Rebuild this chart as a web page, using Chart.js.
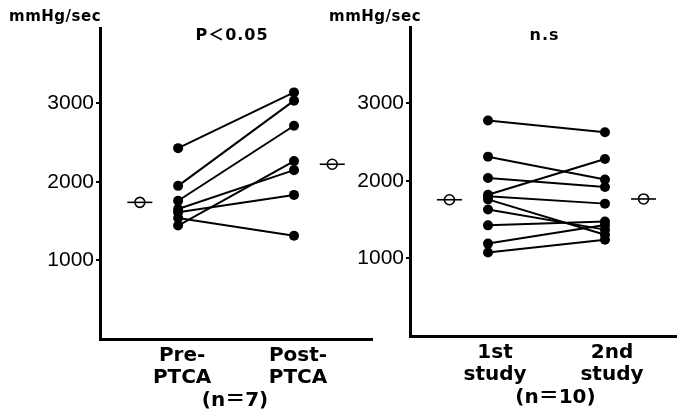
<!DOCTYPE html>
<html>
<head>
<meta charset="utf-8">
<script src="https://cdn.jsdelivr.net/npm/chart.js@4.4.1/dist/chart.umd.min.js"></script>
<style>
  html, body { margin: 0; padding: 0; background: #fff; }
  body { width: 677px; height: 414px; position: relative; overflow: hidden; }
  canvas { position: absolute; top: 0; }
  #left { left: 0; }
  #right { left: 320px; }
</style>
</head>
<body>
<canvas id="left" width="375" height="414"></canvas>
<canvas id="right" width="357" height="414"></canvas>
<script>
// Values (mmHg/sec)
const yTicks = [1000, 2000, 3000];
const meanSlot = [0.67, 2.33];   // where the mean markers sit, either side of the two columns

// PTCA panel (n=7), paired pre/post
const ptcaLabels = [['Pre-', 'PTCA'], ['Post-', 'PTCA']];
const prePTCA  = [2430, 1950, 1760, 1655, 1615, 1540, 1445];
const postPTCA = [3140, 3035, 2715, 2150, 1835, 1315, 2265];
const ptcaMean = [1740, 2225];

// repeat study panel (n=10)
const studyLabels = [['1st', 'study'], ['2nd', 'study']];
const study1 = [2775, 2310, 2035, 1820, 1800, 1760, 1630, 1425, 1190, 1075];
const study2 = [2625, 2015, 1920, 2280, 1705, 1305, 1370, 1475, 1430, 1240];
const studyMean = [1755, 1765];

const UNIT = 'mmHg/sec';
const WIDE = '"DejaVu Sans", "Noto Sans CJK JP", sans-serif';

// unit label, significance note and n label are drawn straight onto the canvas
const panelText = {
  id: 'panelText',
  afterDraw(chart, args, opts) {
    const { ctx, chartArea } = chart;
    const mid = (chartArea.left + chartArea.right) / 2;
    ctx.save();
    ctx.fillStyle = '#000';
    ctx.textBaseline = 'middle';

    ctx.font = 'bold 15px ' + WIDE;
    ctx.letterSpacing = '0.5px';
    ctx.textAlign = 'left';
    ctx.fillText(UNIT, 9, 17);

    ctx.font = 'bold 16px ' + WIDE;
    ctx.letterSpacing = '1px';
    ctx.textAlign = 'center';
    ctx.fillText(opts.note, mid + opts.noteDx, 36);

    ctx.font = 'bold 20px ' + WIDE;
    ctx.letterSpacing = '0px';
    ctx.fillText(opts.n, mid + opts.nDx, opts.nY);
    ctx.restore();
  }
};

function panel(id, o) {
  const subjects = o.before.map((v, i) => ({
    data: [{ x: 1, y: v }, { x: 2, y: o.after[i] }],
    showLine: true,
    borderColor: '#000',
    borderWidth: 2,
    pointRadius: 5,
    pointBackgroundColor: '#000',
    pointBorderColor: '#000',
    pointBorderWidth: 0,
    order: 3,
  }));
  const means = o.mean.map((v, i) => ({ x: meanSlot[i], y: v }));

  new Chart(document.getElementById(id), {
    type: 'scatter',
    data: {
      datasets: [
        ...subjects,
        { data: means, pointStyle: 'circle', pointRadius: 5, pointBackgroundColor: '#fff',
          pointBorderColor: '#000', pointBorderWidth: 1.6, order: 2 },
        { data: means, pointStyle: 'line', pointRadius: 12.5,
          pointBorderColor: '#000', pointBorderWidth: 1.6, order: 1 },
      ],
    },
    options: {
      responsive: false,
      animation: false,
      events: [],
      layout: { padding: o.pad, autoPadding: false },
      plugins: {
        legend: { display: false },
        tooltip: { enabled: false },
        panelText: { note: o.note, noteDx: o.noteDx, n: o.n, nDx: o.nDx, nY: o.nY },
      },
      scales: {
        x: {
          type: 'linear',
          min: o.xMin,
          max: o.xMax,
          afterBuildTicks: (s) => { s.ticks = [{ value: 1 }, { value: 2 }]; },
          afterFit: (s) => { s.height = o.xh; },
          ticks: {
            callback: (v, i) => o.labels[i],
            color: '#000',
            font: { family: WIDE, size: 20, weight: 'bold', lineHeight: 1.1 },
            padding: -2,
            labelOffset: o.labelDx,
            autoSkip: false,
            maxRotation: 0,
          },
          grid: { display: false },
          border: { color: '#000', width: 3 },
        },
        y: {
          min: 0,
          max: o.yMax,
          afterBuildTicks: (s) => { s.ticks = yTicks.map((v) => ({ value: v })); },
          afterFit: (s) => { s.width = o.yw; },
          ticks: {
            callback: (v) => String(v),
            color: '#000',
            font: { family: '"Liberation Sans", Arial, sans-serif', size: 21 },
            padding: 2,
          },
          grid: { drawOnChartArea: false, drawTicks: true, tickLength: 4, color: '#000', lineWidth: 2 },
          border: { color: '#000', width: 3 },
        },
      },
    },
    plugins: [panelText],
  });
}

panel('left', {
  before: prePTCA, after: postPTCA, mean: ptcaMean, labels: ptcaLabels,
  note: 'P＜0.05', noteDx: -4, n: '(n＝7)', nDx: -1, nY: 401, labelDx: 4,
  xMin: 0.326, xMax: 2.673, yMax: 3960, yw: 100, xh: 75,
  pad: { top: 28, right: 3 },
});

panel('right', {
  before: study1, after: study2, mean: studyMean, labels: studyLabels,
  note: 'n.s', noteDx: 1, n: '(n＝10)', nDx: 12, nY: 398, labelDx: 7,
  xMin: 0.333, xMax: 2.616, yMax: 3980, yw: 90, xh: 78,
  pad: { top: 27, right: 0 },
});
</script>
</body>
</html>
